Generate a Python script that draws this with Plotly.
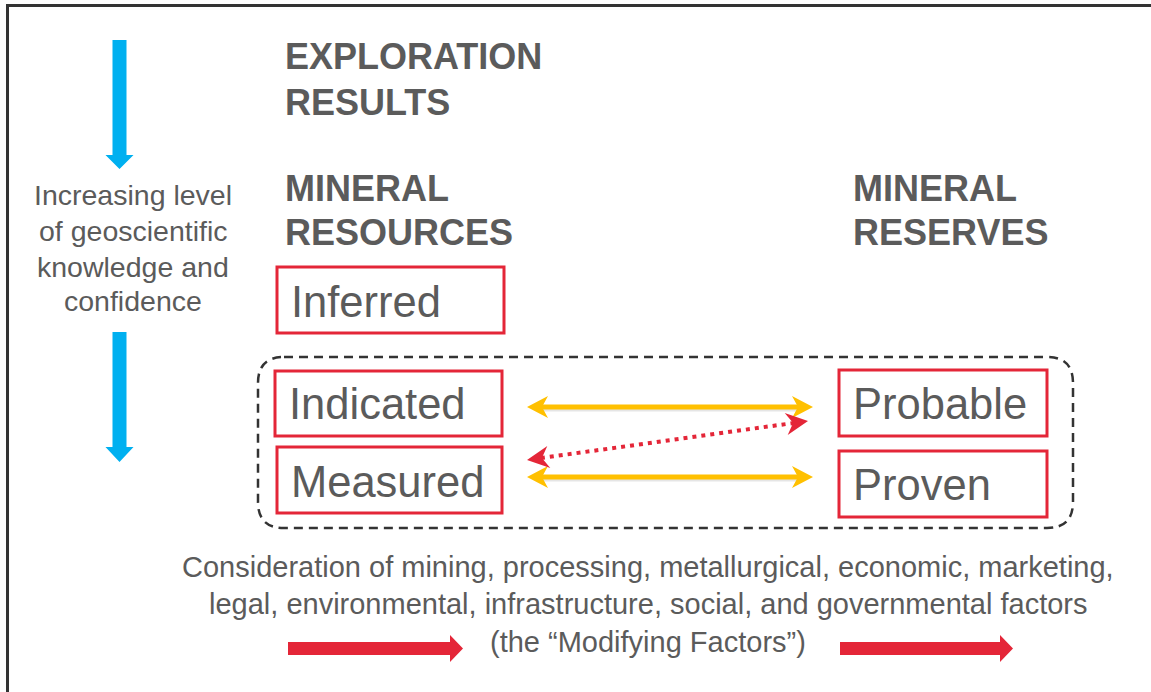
import numpy as np
import plotly.graph_objects as go

# ---- content (text) ----
side_lines = ["Increasing level", "of geoscientific", "knowledge and", "confidence"]
left_headings = ["EXPLORATION", "RESULTS", "MINERAL", "RESOURCES"]
right_headings = ["MINERAL", "RESERVES"]
resource_labels = ["Inferred", "Indicated", "Measured"]
reserve_labels = ["Probable", "Proven"]
footer_lines = [
    "Consideration of mining, processing, metallurgical, economic, marketing,",
    "legal, environmental, infrastructure, social, and governmental factors",
    "(the \u201cModifying Factors\u201d)",
]

# ---- styles / layout geometry (pixels) ----
W, H = 1151, 692
FONT = "Liberation Sans, Arial, sans-serif"
GRAY = "#5b5b5b"
RED = "#e42638"
BLUE = "#00b0f0"
YELLOW = "#ffc000"
DARK = "#333333"

fig = go.Figure()
shapes = []
ann = []


def head(tip, direction, L, Wd, notch, color):
    u = np.array(direction, float)
    u /= np.linalg.norm(u)
    p = np.array([-u[1], u[0]])
    t = np.array(tip, float)
    back = t - L * u
    a = back + Wd * p
    b = t - (L - notch) * u
    c = back - Wd * p
    path = "M{:.1f},{:.1f} L{:.1f},{:.1f} L{:.1f},{:.1f} L{:.1f},{:.1f} Z".format(
        t[0], t[1], a[0], a[1], b[0], b[1], c[0], c[1])
    return dict(type="path", xref="x", yref="y", path=path, fillcolor=color,
                line=dict(width=0), layer="above")


def block_arrow(x0, y0, x1, y1, shaft_w, head_w, head_l, color):
    hw, sw = head_w / 2, shaft_w / 2
    if x0 == x1:  # vertical, pointing down
        yb = y1 - head_l
        path = (f"M{x0-sw},{y0} L{x0+sw},{y0} L{x0+sw},{yb} L{x0+hw},{yb} "
                f"L{x0},{y1} L{x0-hw},{yb} L{x0-sw},{yb} Z")
    else:  # horizontal, pointing right
        xb = x1 - head_l
        path = (f"M{x0},{y0-sw} L{xb},{y0-sw} L{xb},{y0-hw} L{x1},{y0} "
                f"L{xb},{y0+hw} L{xb},{y0+sw} L{x0},{y0+sw} Z")
    return dict(type="path", xref="x", yref="y", path=path, fillcolor=color,
                line=dict(width=0))


# outer frame
shapes.append(dict(type="rect", xref="x", yref="y", x0=7.5, y0=5.5, x1=1170, y1=710,
                   line=dict(color=DARK, width=3)))

# blue vertical arrows
shapes.append(block_arrow(119.5, 40, 119.5, 169, 14, 28, 14, BLUE))
shapes.append(block_arrow(119.5, 332, 119.5, 462, 14, 28, 15, BLUE))

# side text
for t, y in zip(side_lines, [195, 231, 267, 301]):
    ann.append(dict(x=133, y=y, text=t, xanchor="center", yanchor="middle",
                    font=dict(size=28.5, color=GRAY, family=FONT)))

# headings
for t, y in zip(left_headings, [56, 102, 188, 232]):
    ann.append(dict(x=283, y=y, text=f"<b>{t}</b>", xanchor="left", yanchor="middle",
                    font=dict(size=36, color=GRAY, family=FONT)))
for t, y in zip(right_headings, [188, 232]):
    ann.append(dict(x=851, y=y, text=f"<b>{t}</b>", xanchor="left", yanchor="middle",
                    font=dict(size=36, color=GRAY, family=FONT)))

# dashed rounded container
x0, y0, x1, y1, r = 258, 357, 1073, 528, 26
path = (f"M{x0+r},{y0} L{x1-r},{y0} Q{x1},{y0} {x1},{y0+r} L{x1},{y1-r} "
        f"Q{x1},{y1} {x1-r},{y1} L{x0+r},{y1} Q{x0},{y1} {x0},{y1-r} "
        f"L{x0},{y0+r} Q{x0},{y0} {x0+r},{y0} Z")
shapes.append(dict(type="path", xref="x", yref="y", path=path,
                   line=dict(color=DARK, width=2.5, dash="9px,6px")))

# resource / reserve boxes
res_boxes = [(277, 267, 504, 333), (275, 371, 502, 436), (277, 447, 502, 513)]
res_text_y = [302, 404, 482]
for lab, (a, b, c, d), ty in zip(resource_labels, res_boxes, res_text_y):
    shapes.append(dict(type="rect", xref="x", yref="y", x0=a, y0=b, x1=c, y1=d,
                       line=dict(color=RED, width=3), fillcolor="white"))
    ann.append(dict(x=a + 12, y=ty, text=lab, xanchor="left", yanchor="middle",
                    font=dict(size=43.5, color=GRAY, family=FONT)))
rsv_boxes = [(839, 370, 1047, 436), (839, 451, 1047, 517)]
rsv_text_y = [404, 485]
for lab, (a, b, c, d), ty in zip(reserve_labels, rsv_boxes, rsv_text_y):
    shapes.append(dict(type="rect", xref="x", yref="y", x0=a, y0=b, x1=c, y1=d,
                       line=dict(color=RED, width=3), fillcolor="white"))
    ann.append(dict(x=a + 12, y=ty, text=lab, xanchor="left", yanchor="middle",
                    font=dict(size=43.5, color=GRAY, family=FONT)))

# yellow double arrows
for yy in [407, 477]:
    shapes.append(dict(type="line", xref="x", yref="y", x0=537, y0=yy + 2, x1=803, y1=yy + 2,
                       line=dict(color="rgba(0,0,0,0.10)", width=5)))
    shapes.append(dict(type="line", xref="x", yref="y", x0=537, y0=yy, x1=803, y1=yy,
                       line=dict(color=YELLOW, width=5)))
    shapes.append(head((527, yy), (-1, 0), 21, 11, 6, YELLOW))
    shapes.append(head((813, yy), (1, 0), 21, 11, 6, YELLOW))

# red dotted diagonal double arrow
p0 = np.array([527.0, 460.0])
p1 = np.array([808.0, 421.0])
u = (p1 - p0) / np.linalg.norm(p1 - p0)
s0 = p0 + 14 * u
s1 = p1 - 14 * u
shapes.append(dict(type="line", xref="x", yref="y", x0=s0[0], y0=s0[1], x1=s1[0], y1=s1[1],
                   line=dict(color=RED, width=4, dash="4px,5px")))
shapes.append(head(tuple(p0), tuple(-u), 22, 11, 7, RED))
shapes.append(head(tuple(p1), tuple(u), 22, 11, 7, RED))

# footer text
for t, y in zip(footer_lines, [567, 604, 642]):
    ann.append(dict(x=648, y=y, text=t, xanchor="center", yanchor="middle",
                    font=dict(size=29, color=GRAY, family=FONT)))

# red block arrows at bottom
shapes.append(block_arrow(288, 648.5, 463, 648.5, 13, 27, 13, RED))
shapes.append(block_arrow(840, 648.5, 1013, 648.5, 13, 27, 13, RED))

for a in ann:
    a.update(xref="x", yref="y", showarrow=False)

fig.update_layout(
    width=W, height=H, margin=dict(l=0, r=0, t=0, b=0),
    paper_bgcolor="white", plot_bgcolor="white",
    xaxis=dict(range=[0, W], visible=False, fixedrange=True),
    yaxis=dict(range=[H, 0], visible=False, fixedrange=True),
    shapes=shapes, annotations=ann, showlegend=False,
)
fig.write_html(
    "out.html",
    config={"displayModeBar": False},
    post_script="document.body.style.margin='0';document.body.style.overflow='hidden';",
)
